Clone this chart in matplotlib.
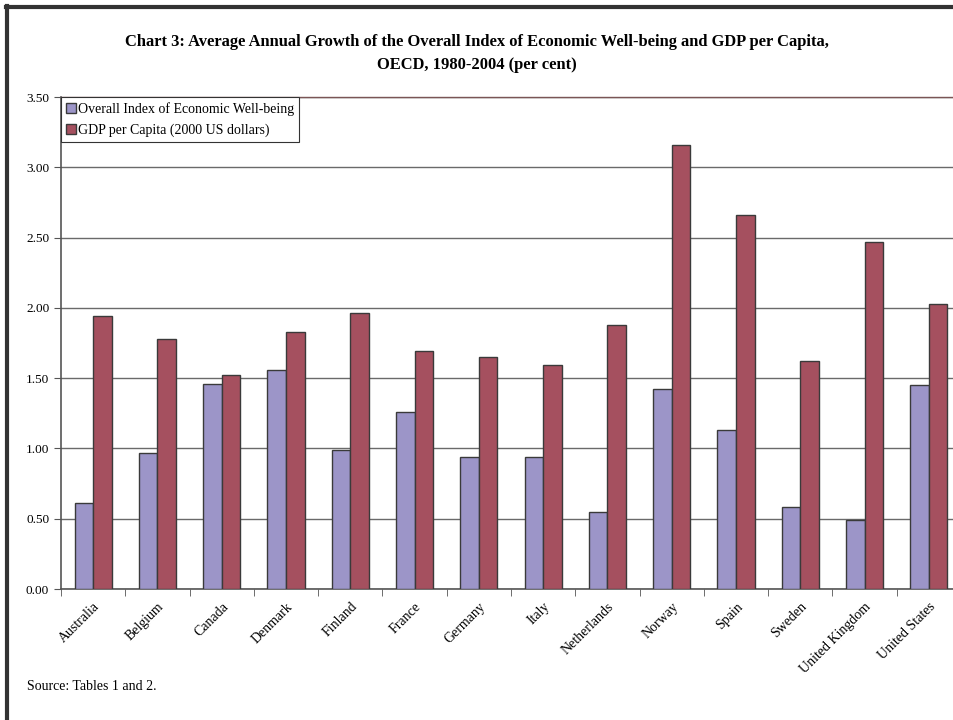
import matplotlib.pyplot as plt
import numpy as np
from matplotlib.lines import Line2D

countries = ["Australia", "Belgium", "Canada", "Denmark", "Finland", "France",
             "Germany", "Italy", "Netherlands", "Norway", "Spain", "Sweden",
             "United Kingdom", "United States"]
well_being = [0.61, 0.97, 1.46, 1.56, 0.99, 1.26, 0.94, 0.94, 0.55, 1.42,
              1.13, 0.58, 0.49, 1.45]
gdp_per_capita = [1.94, 1.78, 1.52, 1.83, 1.96, 1.69, 1.65, 1.59, 1.88, 3.16,
                  2.66, 1.62, 2.47, 2.03]
yticks = [0.0, 0.5, 1.0, 1.5, 2.0, 2.5, 3.0, 3.5]

plt.rcParams["font.family"] = ["Liberation Serif", "DejaVu Serif"]

fig = plt.figure(figsize=(9.54, 7.2), dpi=100)
ax = fig.add_axes([61 / 954, 1 - 589 / 720, 900 / 954, 492 / 720])

x = np.arange(len(countries))
w = 0.29
ax.bar(x - w / 2, well_being, w, color="#9c95c8", edgecolor="#3a3a3a",
       linewidth=1.0, label="Overall Index of Economic Well-being", zorder=3)
ax.bar(x + w / 2, gdp_per_capita, w, color="#a5505f", edgecolor="#3a3a3a",
       linewidth=1.0, label="GDP per Capita (2000 US dollars)", zorder=3)

ax.set_xlim(-0.5, len(countries) - 0.5)
ax.set_ylim(0, 3.5)
ax.set_yticks(yticks)
ax.set_yticklabels([f"{v:.2f}" for v in yticks], fontsize=9.5)
ax.yaxis.grid(True, color="#6a6a6a", linewidth=1.0, zorder=0)
ax.set_axisbelow(True)

ax.set_xticks(x)
ax.set_xticklabels(countries, rotation=45, ha="right", rotation_mode="anchor",
                   fontsize=10)
ax.set_xticks(np.arange(len(countries) + 1) - 0.5, minor=True)
ax.tick_params(axis="x", which="major", length=0, pad=8)
ax.tick_params(axis="x", which="minor", length=5, direction="out",
               color="#555555")
ax.tick_params(axis="y", length=5, direction="out", color="#555555")

for s in ["left", "bottom"]:
    ax.spines[s].set_color("#555555")
    ax.spines[s].set_linewidth(1.2)
ax.spines["right"].set_visible(False)
ax.spines["top"].set_color("#7a5555")
ax.spines["top"].set_linewidth(1.0)

leg = ax.legend(loc="upper left", bbox_to_anchor=(0, 1), borderaxespad=0,
                fontsize=10, frameon=True, fancybox=False, framealpha=1,
                edgecolor="#333333", handlelength=0.7, handleheight=0.7,
                handletextpad=0.2, borderpad=0.35, labelspacing=0.55)
leg.get_frame().set_linewidth(0.8)

fig.text(0.5, 1 - 42 / 720, "Chart 3: Average Annual Growth of the Overall Index "
         "of Economic Well-being and GDP per Capita,", ha="center", va="center",
         fontsize=11.9, fontweight="bold")
fig.text(0.5, 1 - 65 / 720, "OECD, 1980-2004 (per cent)", ha="center",
         va="center", fontsize=11.9, fontweight="bold")
fig.text(27 / 954, 1 - 686 / 720, "Source: Tables 1 and 2.", ha="left",
         va="center", fontsize=10)

# outer frame (left and top edges visible)
fig.add_artist(Line2D([7 / 954, 7 / 954], [0, 1 - 6 / 720], color="#333333",
                      linewidth=3, transform=fig.transFigure))
fig.add_artist(Line2D([6 / 954, 1], [1 - 7 / 720, 1 - 7 / 720],
                      color="#333333", linewidth=3, transform=fig.transFigure))

fig.savefig("out.png", dpi=100)
